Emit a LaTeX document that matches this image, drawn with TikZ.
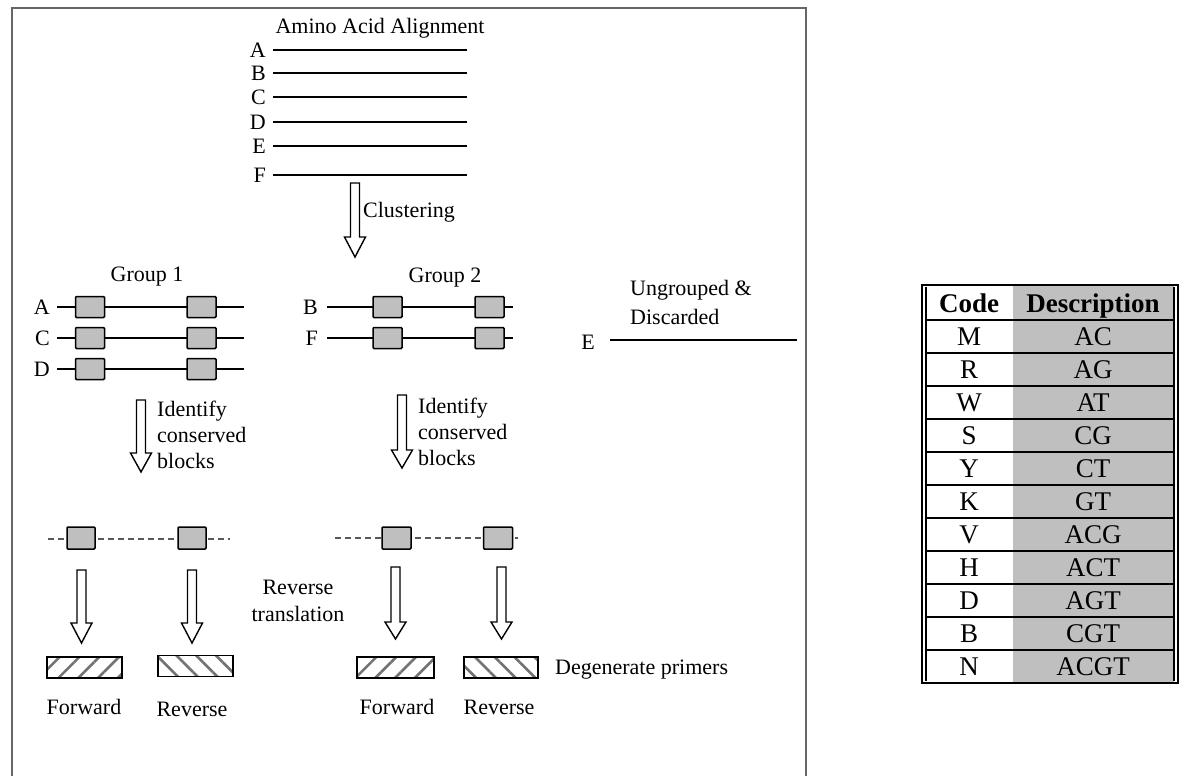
\documentclass[tikz,border=0pt]{standalone}
\usepackage{fontspec}
\setmainfont{Liberation Serif}
\usetikzlibrary{positioning,patterns.meta}

% hollow block arrow: x, top, start of head, tip
\newcommand{\hollowarr}[4]{%
  \draw[blk] (#1-4.5,#2) -- (#1+4.5,#2) -- (#1+4.5,#3) -- (#1+10.5,#3)
    -- (#1,#4) -- (#1-10.5,#3) -- (#1-4.5,#3) -- cycle;}

\begin{document}
\begin{tikzpicture}[
    x=1pt, y=-1pt,
    every node/.style={font=\fontsize{22}{26}\selectfont, inner sep=0pt},
    lbl/.style={anchor=east},
    seq/.style={line width=1.6pt},
    dash line/.style={line width=1.5pt, draw=black!65, dash pattern=on 6pt off 4pt},
    cons/.style={rectangle, draw, fill=gray!50, line width=1.5pt, rounded corners=1pt, minimum width=29pt, minimum height=21pt},
    blk/.style={line width=1.4pt, fill=white},
    primer/.style={rectangle, draw, line width=1.5pt, minimum width=75pt, minimum height=21pt, pattern color=black!55},
    fwd/.style={primer, pattern={Lines[angle=45, distance=14pt, line width=2.6pt]}},
    rev/.style={primer, pattern={Lines[angle=-45, distance=14pt, line width=2.6pt]}},
    frame/.style={line width=2.5pt, draw=black!60},
    tab/.style={font=\fontsize{27}{30}\selectfont, text height=18pt, text depth=0pt}
]
\useasboundingbox (0,0) rectangle (1184,776);
\draw[frame] (12,776) -- (12,8) -- (806,8) -- (806,776);

% alignment
\node (title) at (380,28) {Amino Acid Alignment};
\foreach \s/\y in {A/50,B/73,C/97,D/122,E/146,F/175} {
  \node[lbl] (aln\s) at (266,\y) {\s};
  \draw[seq] (273,\y) -- (467,\y);
}
\hollowarr{355}{183}{237}{257}
\node[anchor=west] (clus) at (363,212) {Clustering};

% group 1
\node (grp1) at (147,277) {Group 1};
\foreach \s/\y in {A/307,C/338,D/369} {
  \node[lbl] (gA\s) at (50,\y) {\s};
  \draw[seq] (57,\y) -- (244,\y);
  \node[cons] at (90,\y) {};
  \node[cons] at (201.5,\y) {};
}
% group 2
\node (grp2) at (445,278) {Group 2};
\foreach \s/\y in {B/307,F/338} {
  \node[lbl] (gB\s) at (318,\y) {\s};
  \draw[seq] (327,\y) -- (513,\y);
  \node[cons] at (387.5,\y) {};
  \node[cons] at (489.5,\y) {};
}
% ungrouped
\node[anchor=west, align=left, font=\fontsize{22}{29}\selectfont] (ungr) at (630,302) {Ungrouped \&\\Discarded};
\node (seqE) at (588,342) {E};
\draw[seq] (610,340) -- (797,340);

% identify conserved blocks
\hollowarr{141}{400}{453}{472}
\node[anchor=west, align=left] (ident1) at (157,435) {Identify\\conserved\\blocks};
\hollowarr{402}{395}{450}{468}
\node[anchor=west, align=left] (ident2) at (418,432) {Identify\\conserved\\blocks};

% conserved blocks
\draw[dash line] (48,539) -- (230,539);
\draw[dash line] (335,538) -- (518,538);
\node[cons, minimum width=28pt, minimum height=22pt] (blk1) at (81,538) {};
\node[cons, minimum width=28pt, minimum height=22pt] (blk2) at (192,538) {};
\node[cons, minimum width=29pt, minimum height=22pt] (blk3) at (396.5,538) {};
\node[cons, minimum width=29pt, minimum height=22pt] (blk4) at (498,538) {};

% reverse translation
\hollowarr{81.5}{570}{623}{643}
\hollowarr{192}{570}{623}{643}
\hollowarr{395.5}{567}{622}{639}
\hollowarr{501.5}{567}{622}{639}
\node[align=center, font=\fontsize{22}{27}\selectfont] (revtr) at (298,601) {Reverse\\translation};

% primers
\node[fwd] (fwd1) at (84.5,667.5) {};
\node[rev] (rev1) at (195.5,666) {};
\node[fwd, minimum width=77pt] (fwd2) at (395.5,667.5) {};
\node[rev, minimum width=74pt] (rev2) at (501,667.5) {};
\node[anchor=west] (degen) at (555,670) {Degenerate primers};
\node (fwdl1) at (84,707) {Forward};
\node (revl1) at (192,709) {Reverse};
\node (fwdl2) at (397,707) {Forward};
\node (revl2) at (499,707) {Reverse};

% code table
\fill[gray!50] (1013,285) rectangle (1174,683);
\draw[line width=1.3pt] (922,285) rectangle (1178,683);
\draw[line width=1.1pt] (926,287) -- (926,681);
\draw[line width=1.1pt] (1174,287) -- (1174,681);
\draw[line width=1.8pt] (922,285) -- (1178,285);
\node[tab] (hcode) at (969,303) {\bfseries Code};
\node[tab] (hdesc) at (1093,303) {\bfseries Description};
\foreach \c/\d [count=\i] in {M/AC,R/AG,W/AT,S/CG,Y/CT,K/GT,V/ACG,H/ACT,D/AGT,B/CGT,N/ACGT} {
  \draw[line width=1.2pt] (926,{320+33*(\i-1)}) -- (1174,{320+33*(\i-1)});
  \node[tab] (code\c) at (969,{320+33*(\i-0.5)}) {\c};
  \node[tab] (desc\c) at (1093,{320+33*(\i-0.5)}) {\d};
}
\end{tikzpicture}
\end{document}
